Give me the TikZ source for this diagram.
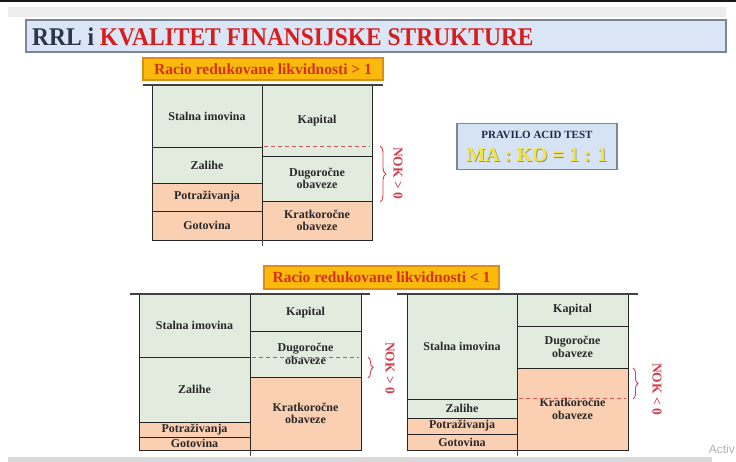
\documentclass[tikz,border=0pt]{standalone}
\usepackage{fontspec}
\setmainfont{Liberation Serif}
\setsansfont{Liberation Sans}
\usetikzlibrary{decorations.pathreplacing}
\definecolor{cgreen}{RGB}{226,236,222}
\definecolor{corange}{RGB}{250,207,178}
\definecolor{lblfill}{RGB}{249,186,12}
\definecolor{lbldraw}{RGB}{222,140,20}
\definecolor{lbltext}{RGB}{214,48,30}
\definecolor{titlefill}{RGB}{218,230,245}
\definecolor{titledraw}{RGB}{125,135,148}
\definecolor{titledark}{RGB}{40,55,75}
\definecolor{titlered}{RGB}{215,30,30}
\definecolor{nokred}{RGB}{212,62,78}
\definecolor{celltext}{RGB}{40,40,40}
\definecolor{acidfill}{RGB}{214,227,244}
\definecolor{acidtext}{RGB}{30,40,75}
\definecolor{acidyellow}{RGB}{242,230,70}
\definecolor{dashred}{RGB}{210,85,85}
\newcommand\cellbox[7]{%
  \node[cellst, fill=#6, minimum width={(#4-#2)*1pt}, minimum height={(#5-#3)*1pt}]
    (#1) at ({(#2+#4)/2},{(#3+#5)/2}) {#7};}
\begin{document}
\begin{tikzpicture}[x=1pt,y=-1pt,
  cellst/.style={draw=black!85, line width=0.9pt, inner sep=0pt, outer sep=0pt,
    font=\bfseries\fontsize{12}{12.5}\selectfont, text=celltext, align=center},
  lblbox/.style={draw=lbldraw, line width=1.2pt, fill=lblfill, inner sep=0pt,
    text=lbltext, font=\bfseries\fontsize{15.5}{16}\selectfont},
  baseln/.style={draw=black!75, line width=1.3pt},
  dashln/.style={draw=dashred, dash pattern=on 4pt off 3pt, line width=1pt},
  nokbrace/.style={draw=nokred, line width=0.9pt, decorate,
    decoration={brace, amplitude=6pt}},
  noktext/.style={text=nokred, rotate=-90, font=\bfseries\fontsize{13.5}{14}\selectfont},
  midln/.style={draw=black!70, line width=0.9pt}]
\useasboundingbox (0,0) rectangle (736,462);
\fill[white] (0,0) rectangle (736,462);
% top bands
\fill[black!90] (0,0) rectangle (736,2);
\fill[black!7] (8,7) rectangle (726,17);
\fill[black!15] (8,457) rectangle (712,462);
% title
\node[draw=titledraw, line width=1.2pt, fill=titlefill, minimum width=700pt, minimum height=32pt,
  inner sep=0pt] (title) at (376,36) {};
\node[anchor=west, inner sep=0pt, font=\bfseries\fontsize{25.5}{26}\selectfont] (titletext) at (32,36.5)
  {\scalebox{0.92}[1]{\textcolor{titledark}{RRL i} \textcolor{titlered}{KVALITET FINANSIJSKE STRUKTURE}}};
% ---------- chart 1
\node[lblbox, minimum width=240pt, minimum height=22pt] (lbl1) at (263,69) {Racio redukovane likvidnosti > 1};
\coordinate (b1l) at (143,85); \coordinate (b1r) at (383,85);
\cellbox{s1}{152}{85}{262}{147}{cgreen}{Stalna imovina}
\cellbox{z1}{152}{147}{262}{183}{cgreen}{Zalihe}
\cellbox{p1}{152}{183}{262}{211}{corange}{Potraživanja}
\cellbox{g1}{152}{211}{262}{240}{corange}{Gotovina}
\cellbox{k1}{262}{85}{372}{156}{cgreen}{Kapital}
\cellbox{d1}{262}{156}{372}{201}{cgreen}{Dugoročne\\obaveze}
\cellbox{kr1}{262}{201}{372}{240}{corange}{Kratkoročne\\obaveze}
\draw[baseln] (b1l) -- (b1r);
\draw[midln] (g1.south east) -- ++(0,6);
\coordinate (dl1a) at (264,147); \coordinate (dl1b) at (370,147);
\draw[dashln] (dl1a) -- (dl1b);
\coordinate (br1a) at (380,146); \coordinate (br1b) at (380,202);
\draw[nokbrace] (br1a) -- (br1b);
\node[noktext] (nok1) at (398,173) {NOK > 0};
% ---------- acid test
\node[draw=titledraw, line width=1.3pt, fill=acidfill, minimum width=160pt, minimum height=46pt,
  inner sep=0pt] (acid) at (537,146.5) {};
\node[text=acidtext, font=\bfseries\fontsize{11}{12}\selectfont, inner sep=0pt] (acidt) at (537,135) {PRAVILO ACID TEST};
\node[text=black!45, font=\bfseries\fontsize{20}{21}\selectfont, inner sep=0pt] (mashadow) at (537.8,156.3) {MA : KO = 1 : 1};
\node[text=acidyellow, font=\bfseries\fontsize{20}{21}\selectfont, inner sep=0pt] (ma) at (537,155.5) {MA : KO = 1 : 1};
% ---------- label 2
\node[lblbox, minimum width=235pt, minimum height=23pt] (lbl2) at (381.5,277.5) {Racio redukovane likvidnosti < 1};
% ---------- chart 2
\coordinate (b2l) at (130,294); \coordinate (b2r) at (370,294);
\cellbox{s2}{139}{294}{250}{357}{cgreen}{Stalna imovina}
\cellbox{z2}{139}{357}{250}{422}{cgreen}{Zalihe}
\cellbox{p2}{139}{422}{250}{437}{corange}{Potraživanja}
\cellbox{g2}{139}{437}{250}{450}{corange}{Gotovina}
\cellbox{k2}{250}{294}{361}{331}{cgreen}{Kapital}
\cellbox{d2}{250}{331}{361}{377}{cgreen}{Dugoročne\\obaveze}
\cellbox{kr2}{250}{377}{361}{450}{corange}{Kratkoročne\\obaveze}
\draw[baseln] (b2l) -- (b2r);
\draw[midln] (g2.south east) -- ++(0,6);
\coordinate (dl2a) at (252,357); \coordinate (dl2b) at (359,357);
\draw[dashln] (dl2a) -- (dl2b);
\coordinate (br2a) at (368,357); \coordinate (br2b) at (368,378);
\draw[nokbrace, decoration={brace, amplitude=5pt}] (br2a) -- (br2b);
\node[noktext] (nok2) at (390,368) {NOK > 0};
% ---------- chart 3
\coordinate (b3l) at (397,294); \coordinate (b3r) at (638,294);
\cellbox{s3}{407}{294}{517}{399}{cgreen}{Stalna imovina}
\cellbox{z3}{407}{399}{517}{418}{cgreen}{Zalihe}
\cellbox{p3}{407}{418}{517}{434}{corange}{Potraživanja}
\cellbox{g3}{407}{434}{517}{450}{corange}{Gotovina}
\cellbox{k3}{517}{294}{628}{326}{cgreen}{Kapital}
\cellbox{d3}{517}{326}{628}{368}{cgreen}{Dugoročne\\obaveze}
\cellbox{kr3}{517}{368}{628}{450}{corange}{Kratkoročne\\obaveze}
\draw[baseln] (b3l) -- (b3r);
\draw[midln] (g3.south east) -- ++(0,6);
\coordinate (dl3a) at (519,398); \coordinate (dl3b) at (626,398);
\draw[dashln] (dl3a) -- (dl3b);
\coordinate (br3a) at (633,368); \coordinate (br3b) at (633,399);
\draw[nokbrace, decoration={brace, amplitude=5pt}] (br3a) -- (br3b);
\node[noktext] (nok3) at (657,389) {NOK < 0};
% watermark fragment
\node[anchor=east, text=black!30, font=\sffamily\fontsize{12}{12}\selectfont, inner sep=0pt] (activ) at (735,449) {Activ};
\end{tikzpicture}
\end{document}
